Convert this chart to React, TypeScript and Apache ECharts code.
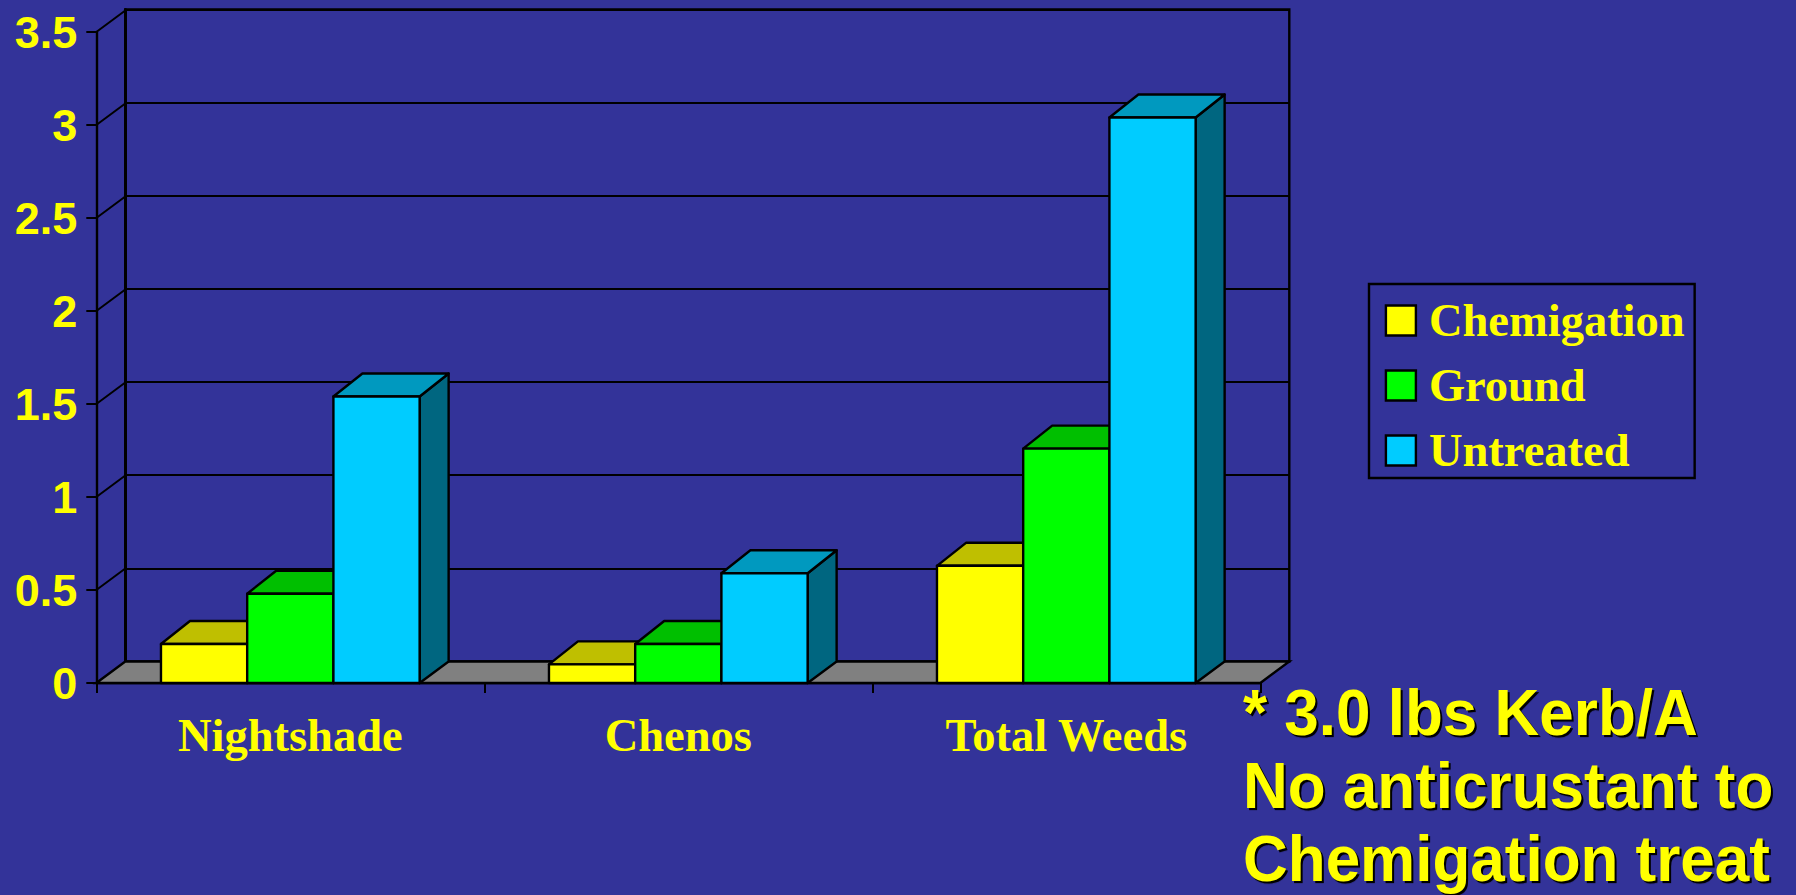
import React, { useEffect, useRef } from "react";
import * as echarts from "echarts";

const categories = ["Nightshade", "Chenos", "Total Weeds"];
const seriesNames = ["Chemigation", "Ground", "Untreated"];
const chemigation = [0.21, 0.1, 0.63];
const ground = [0.48, 0.21, 1.26];
const untreated = [1.54, 0.59, 3.04];
const seriesValues = [chemigation, ground, untreated];
const yTicks = [0, 0.5, 1, 1.5, 2, 2.5, 3, 3.5];
const noteLines = ["* 3.0 lbs Kerb/A", "No anticrustant to", "Chemigation treat"];

const frontColors = ["#FFFF00", "#00FF00", "#00CCFF"];
const topColors = ["#BFBF00", "#00BF00", "#0099BF"];
const sideColors = ["#808000", "#008000", "#006680"];

const BG = "#333399";
const TEXT = "#FFFF00";
const SERIF = "'Liberation Serif', serif";
const SANS = "'Liberation Sans', sans-serif";
const DX = 29;
const DY = 21.5;
const BAR_DY = 23;
const LEFT = 96.3;
const WIDTH = 1164;
const TOP = 32;
const HEIGHT = 651;

export default function App() {
  const ref = useRef<HTMLDivElement>(null);
  useEffect(() => {
    document.body.style.margin = "0";
    const chart = echarts.init(ref.current!, null, { renderer: "svg" });

    const barRender = (s: number) => (_: any, api: any) => {
      const cat = api.value(0);
      const val = api.value(1);
      const band = api.size([1, 0])[0];
      const w = (band * 2) / 9;
      const base = api.coord([cat, 0]);
      const top = api.coord([cat, val]);
      const x = base[0] - 1.5 * w + s * w;
      const lineStyle = { stroke: "#000", lineWidth: 2.4, lineJoin: "round" };
      return {
        type: "group",
        children: [
          {
            type: "polygon",
            shape: { points: [[x + w, top[1]], [x + w + DX, top[1] - BAR_DY], [x + w + DX, base[1] - DY], [x + w, base[1]]] },
            style: { fill: sideColors[s], ...lineStyle },
          },
          {
            type: "polygon",
            shape: { points: [[x, top[1]], [x + DX, top[1] - BAR_DY], [x + w + DX, top[1] - BAR_DY], [x + w, top[1]]] },
            style: { fill: topColors[s], ...lineStyle },
          },
          {
            type: "rect",
            shape: { x, y: top[1], width: w, height: base[1] - top[1] },
            style: { fill: frontColors[s], ...lineStyle },
          },
        ],
      };
    };

    const wallRender = (_: any, api: any) => {
      const v = api.value(0);
      const band = api.size([1, 0])[0];
      const p = api.coord([0, v]);
      const x0 = p[0] - band / 2;
      const children: any[] = [];
      if (v === 0) {
        const x1 = x0 + band * categories.length;
        children.push({
          type: "polygon",
          shape: { points: [[x0, p[1]], [x0 + DX, p[1] - DY], [x1 + DX, p[1] - DY], [x1, p[1]]] },
          style: { fill: "#808080", stroke: "#000", lineWidth: 2.4 },
        });
      } else {
        children.push({
          type: "line",
          shape: { x1: x0, y1: p[1], x2: x0 + DX, y2: p[1] - DY },
          style: { stroke: "#000", lineWidth: 2 },
        });
      }
      return { type: "group", children };
    };

    chart.setOption({
      animation: false,
      backgroundColor: BG,
      grid: [
        { left: LEFT, top: TOP, width: WIDTH, height: HEIGHT },
        {
          left: LEFT + DX,
          top: TOP - DY - 1,
          width: WIDTH,
          height: HEIGHT + 1,
          show: true,
          backgroundColor: "transparent",
          borderColor: "#000",
          borderWidth: 2.4,
        },
      ],
      xAxis: [
        {
          type: "category",
          gridIndex: 0,
          data: categories,
          axisLine: { show: true, lineStyle: { color: "#000", width: 2.4 } },
          axisTick: { show: true, length: 10, lineStyle: { color: "#000", width: 2 } },
          axisLabel: { color: TEXT, fontFamily: SERIF, fontWeight: "bold", fontSize: 46.5, margin: 28.5 },
        },
        { type: "category", gridIndex: 1, data: categories, show: false },
      ],
      yAxis: [
        {
          type: "value",
          gridIndex: 0,
          min: 0,
          max: 3.5,
          interval: 0.5,
          splitLine: { show: false },
          axisLine: { show: true, lineStyle: { color: "#000", width: 2.4 } },
          axisTick: { show: true, length: 10, lineStyle: { color: "#000", width: 2 } },
          axisLabel: {
            color: TEXT,
            fontFamily: SANS,
            fontWeight: "bold",
            fontSize: 45,
            margin: 19,
            hideOverlap: false,
            showMinLabel: true,
            showMaxLabel: true,
          },
        },
        {
          type: "value",
          gridIndex: 1,
          min: 0,
          max: 3.5,
          interval: 0.5,
          axisLabel: { show: false },
          axisTick: { show: false },
          axisLine: { show: true, lineStyle: { color: "#000", width: 3 } },
          splitLine: { show: true, lineStyle: { color: "#000", width: 2 } },
        },
      ],
      legend: {
        orient: "vertical",
        left: 1369,
        top: 284,
        padding: [13, 10, 4, 15.7],
        itemWidth: 30,
        itemHeight: 30,
        itemGap: 18,
        borderColor: "#000",
        borderWidth: 2.4,
        data: seriesNames.map((name) => ({ name, icon: "rect" })),
        itemStyle: { borderColor: "#000", borderWidth: 2.4 },
        selectedMode: false,
        textStyle: {
          color: TEXT,
          fontFamily: SERIF,
          fontWeight: "bold",
          fontSize: 46.5,
          padding: [0, 0, 0, 8],
        },
      },
      series: [
        {
          type: "custom",
          name: "walls",
          xAxisIndex: 0,
          yAxisIndex: 0,
          z: 1,
          clip: false,
          silent: true,
          data: yTicks.map((v) => [v]),
          encode: { y: 0 },
          renderItem: wallRender,
        },
        ...seriesNames.map((name, s) => ({
          type: "custom",
          name,
          xAxisIndex: 0,
          yAxisIndex: 0,
          z: 2 + s,
          clip: false,
          itemStyle: { color: frontColors[s] },
          data: seriesValues[s].map((v, i) => [i, v]),
          encode: { x: 0, y: 1 },
          renderItem: barRender(s),
        })),
      ],
      graphic: noteLines.map((text, i) => ({
        type: "text",
        x: 1243,
        y: 712.5 + i * 72.8,
        scaleY: 1.06,
        z: 20,
        style: {
          text,
          fill: TEXT,
          fontFamily: SANS,
          fontWeight: "bold",
          fontSize: 62,
          verticalAlign: "middle",
        },
      })),
    });
    // The note lines carry a hard black drop shadow in the reference.
    ref.current!.querySelectorAll("text").forEach((t) => {
      if (noteLines.includes(t.textContent || "")) {
        (t as SVGTextElement).style.filter = "drop-shadow(2px 2px 0 #000)";
      }
    });
    return () => chart.dispose();
  }, []);
  return <div ref={ref} style={{ position: "fixed", left: 0, top: 0, width: 1796, height: 895 }} />;
}
